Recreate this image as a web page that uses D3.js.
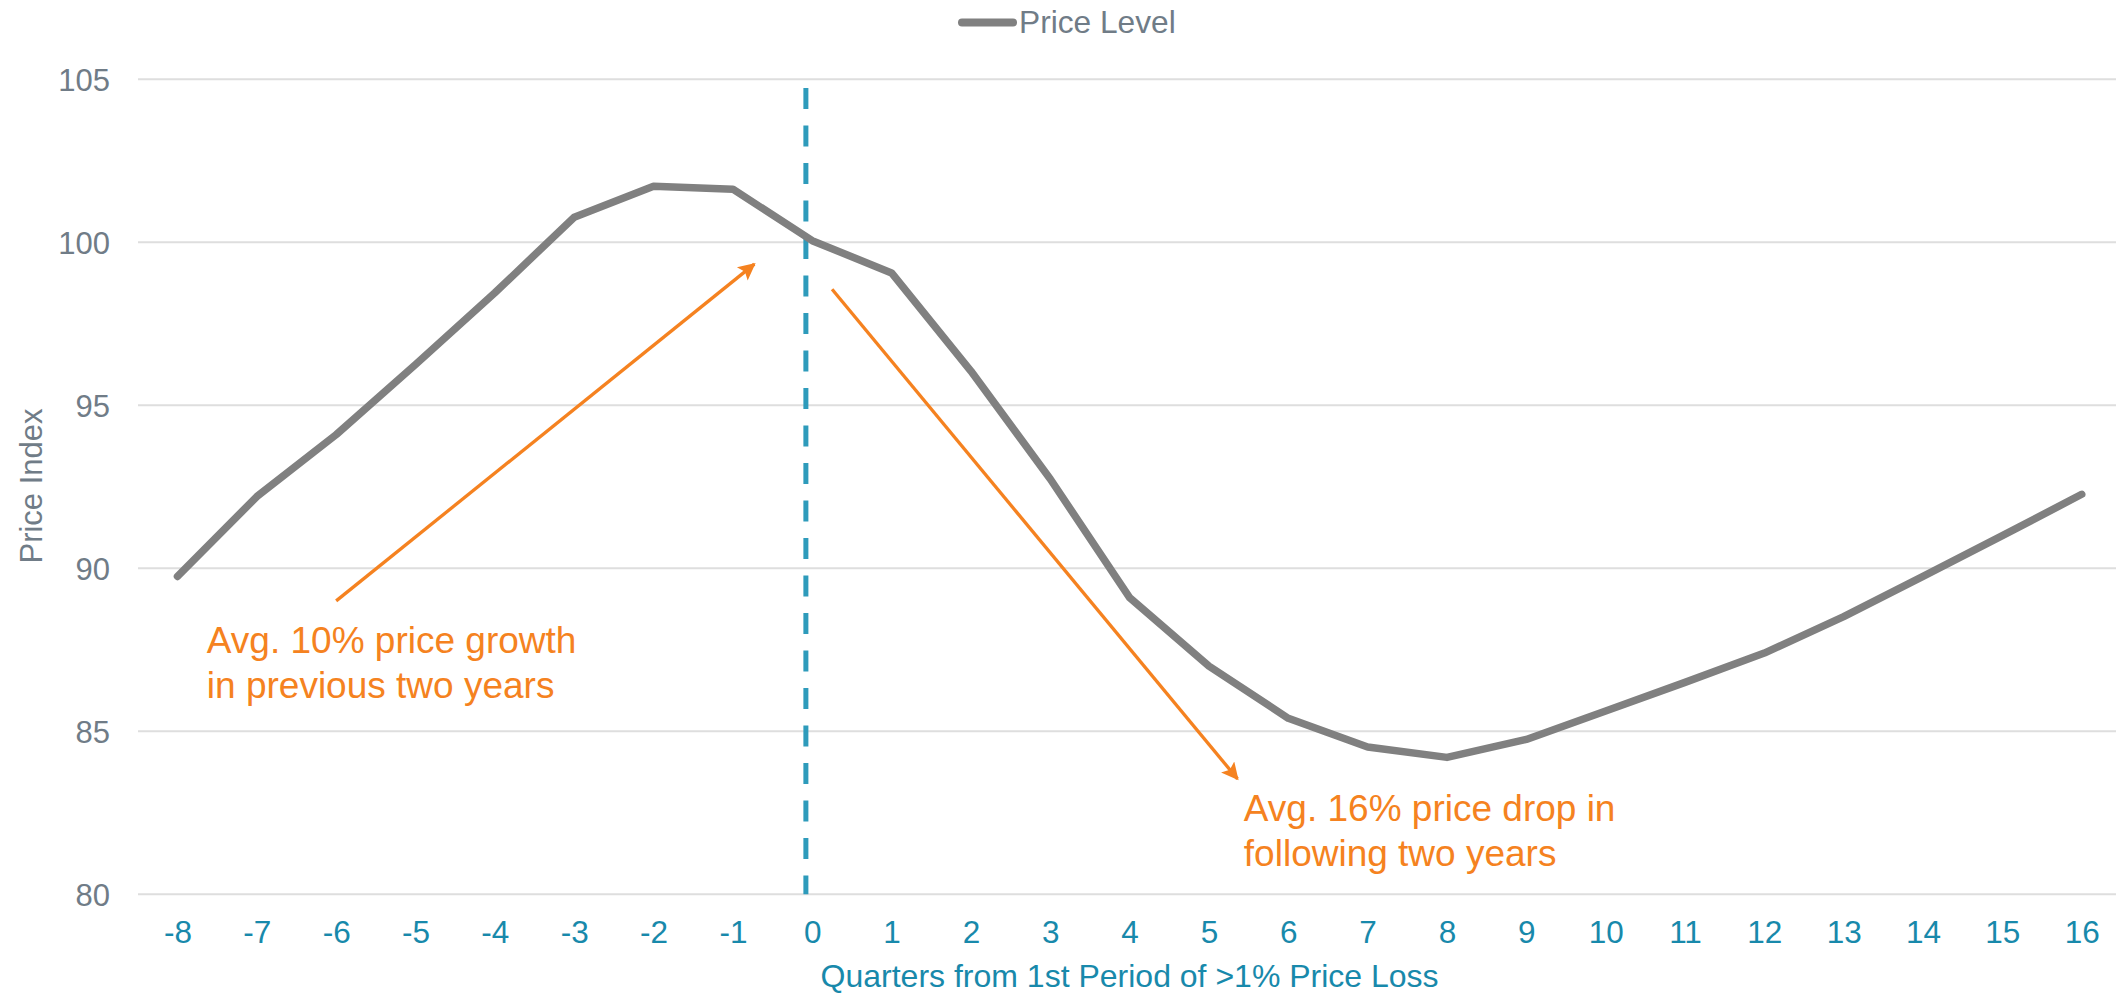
<!DOCTYPE html>
<html>
<head>
<meta charset="utf-8">
<script src="https://cdn.jsdelivr.net/npm/d3@7/dist/d3.min.js"></script>
<style>
  html, body { margin: 0; padding: 0; background: #ffffff; }
  svg { display: block; font-family: "Liberation Sans", Arial, Helvetica, sans-serif; }
</style>
</head>
<body>
<svg id="chart" width="2116" height="993"></svg>
<script>
// Quarters relative to the first quarter with a >1% price loss
const quarters = [-8, -7, -6, -5, -4, -3, -2, -1, 0, 1, 2, 3, 4, 5, 6, 7, 8, 9, 10, 11, 12, 13, 14, 15, 16];
// Average price index (quarter 0 = 100)
const priceLevel = [89.75, 92.2, 94.1, 96.25, 98.45, 100.77, 101.72, 101.63, 100.05, 99.06, 96.05, 92.74, 89.1,
                    87.0, 85.4, 84.52, 84.2, 84.75, 85.62, 86.5, 87.4, 88.52, 89.75, 91.0, 92.27];
const yTicks = [80, 85, 90, 95, 100, 105];
const seriesName = "Price Level";
const xTitle = "Quarters from 1st Period of >1% Price Loss";
const yTitle = "Price Index";

// Onset marker, in quarters / index units
const onsetQuarter = -0.08;
const onsetTop = 104.73;

// Annotation arrows: [fromQuarter, fromIndex, toQuarter, toIndex]
const arrows = [
  [-6.0, 89.0, -0.73, 99.33],
  [0.25, 98.56, 5.36, 83.54]
];
// Annotation texts: anchor quarter, first baseline index, lines
const notes = [
  { q: -7.63, v: 87.41, lines: ["Avg. 10% price growth", "in previous two years"] },
  { q: 5.44, v: 82.26, lines: ["Avg. 16% price drop in", "following two years"] }
];

const svg = d3.select("#chart");
const gridLeft = 138, gridRight = 2116;

const x = d3.scaleLinear().domain([-8, 16]).range([177.5, 2081.7]);
const y = d3.scaleLinear().domain([80, 105]).range([894.3, 79.3]);

const grey = "#707C87";
const teal = "#1889AB";
const orange = "#F58220";

// Horizontal gridlines
svg.append("g")
  .selectAll("line")
  .data(yTicks)
  .join("line")
  .attr("x1", gridLeft).attr("x2", gridRight)
  .attr("y1", d => y(d)).attr("y2", d => y(d))
  .attr("stroke", "#DEDEDE").attr("stroke-width", 2);

// Y axis labels
const yAxis = d3.axisLeft(y).tickValues(yTicks).tickSize(0).tickPadding(0);
const yg = svg.append("g").attr("transform", "translate(110,0)").call(yAxis);
yg.select(".domain").remove();
yg.selectAll("text")
  .attr("fill", grey)
  .attr("font-size", 31)
  .attr("font-family", "'Liberation Sans', Arial, sans-serif")
  .attr("dy", "0.35em");

// X axis labels
const xAxis = d3.axisBottom(x).tickValues(quarters).tickSize(0).tickPadding(0).tickFormat(d3.format("d"));
const xg = svg.append("g").attr("transform", "translate(0,920)").call(xAxis);
xg.select(".domain").remove();
xg.selectAll("text")
  .attr("fill", teal)
  .attr("font-size", 31.5)
  .attr("font-family", "'Liberation Sans', Arial, sans-serif")
  .attr("dy", "0.74em")
  .text(d => d < 0 ? "-" + Math.abs(d) : d);

// Axis titles
svg.append("text")
  .attr("x", (x(-8) + x(16)) / 2)
  .attr("y", 987)
  .attr("text-anchor", "middle")
  .attr("fill", teal)
  .attr("font-size", 32)
  .text(xTitle);

svg.append("text")
  .attr("transform", "translate(42,486) rotate(-90)")
  .attr("text-anchor", "middle")
  .attr("fill", grey)
  .attr("font-size", 31)
  .text(yTitle);

// Onset divider
svg.append("line")
  .attr("x1", x(onsetQuarter)).attr("x2", x(onsetQuarter))
  .attr("y1", y(onsetTop)).attr("y2", y(80))
  .attr("stroke", "#2E9BBB")
  .attr("stroke-width", 5)
  .attr("stroke-dasharray", "21,16.5");

// Price line
const line = d3.line()
  .x((d, i) => x(quarters[i]))
  .y(d => y(d));

svg.append("path")
  .datum(priceLevel)
  .attr("d", line)
  .attr("fill", "none")
  .attr("stroke", "#808080")
  .attr("stroke-width", 7.5)
  .attr("stroke-linejoin", "round")
  .attr("stroke-linecap", "round");

// Arrow marker
svg.append("defs").append("marker")
  .attr("id", "arrowhead")
  .attr("viewBox", "0 0 10 10")
  .attr("refX", 9).attr("refY", 5)
  .attr("markerWidth", 6.2).attr("markerHeight", 5.2)
  .attr("markerUnits", "strokeWidth")
  .attr("orient", "auto")
  .append("path")
  .attr("d", "M0,0 L10,5 L0,10 L2,5 z")
  .attr("fill", orange);

svg.append("g")
  .selectAll("line")
  .data(arrows)
  .join("line")
  .attr("x1", d => x(d[0])).attr("y1", d => y(d[1]))
  .attr("x2", d => x(d[2])).attr("y2", d => y(d[3]))
  .attr("stroke", orange)
  .attr("stroke-width", 3.3)
  .attr("marker-end", "url(#arrowhead)");

// Annotation texts
notes.forEach(n => {
  const t = svg.append("text")
    .attr("x", x(n.q))
    .attr("y", y(n.v))
    .attr("fill", orange)
    .attr("font-size", 37);
  n.lines.forEach((l, i) => {
    t.append("tspan")
      .attr("x", x(n.q))
      .attr("dy", i === 0 ? 0 : 45.5)
      .text(l);
  });
});

// Legend
const legend = svg.append("g");
legend.append("line")
  .attr("x1", 962).attr("x2", 1013)
  .attr("y1", 22.5).attr("y2", 22.5)
  .attr("stroke", "#808080")
  .attr("stroke-width", 8)
  .attr("stroke-linecap", "round");
legend.append("text")
  .attr("x", 1019)
  .attr("y", 33)
  .attr("fill", grey)
  .attr("font-size", 31.7)
  .text(seriesName);
</script>
</body>
</html>
